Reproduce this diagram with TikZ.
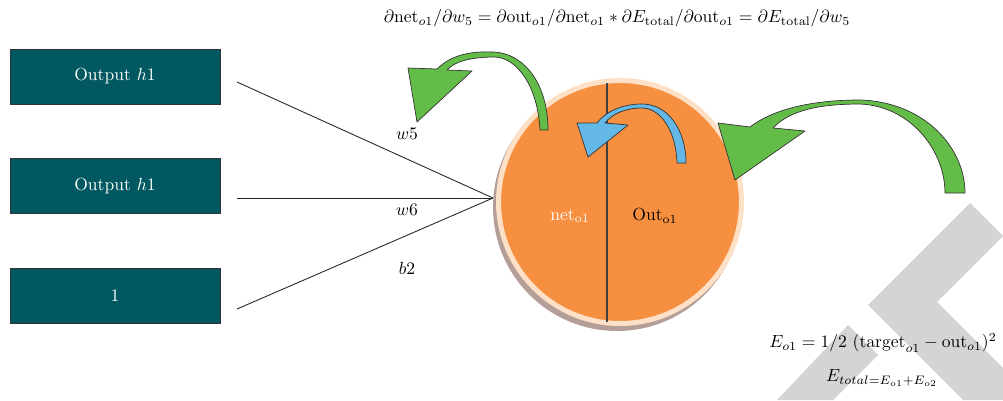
\documentclass[tikz,border=0pt]{standalone}
\usepackage{amsmath,amssymb}
\usepackage{tikz}
\usetikzlibrary{positioning,calc}
\definecolor{tealbox}{RGB}{2,88,96}
\definecolor{neuronorange}{RGB}{246,143,64}
\definecolor{ringpeach}{RGB}{253,224,198}
\definecolor{ringshadow}{RGB}{180,158,152}
\definecolor{arrowgreen}{RGB}{100,188,72}
\definecolor{arrowblue}{RGB}{100,184,230}
\definecolor{markgray}{RGB}{212,212,212}

\begin{document}
\begin{tikzpicture}[x=0.02cm, y=-0.02cm,
    box/.style={draw=black!80, fill=tealbox, minimum width=4.2cm, minimum height=1.1cm, text=white},
    wire/.style={black!85, line width=0.5pt},
    neuron/.style={circle, fill=neuronorange, draw=ringpeach, line width=0.1cm, minimum size=4.86cm, inner sep=0pt},
    curvearrow/.style={draw=black!80, line width=0.4pt, line join=round}
]
\useasboundingbox (0,0) rectangle (1003,400);

% watermark stripes
\fill[markgray] (777,400) -- (848,325) -- (878,355) -- (833,400) -- cycle;
\fill[markgray] (868,305) -- (970,203) -- (1003,236) -- (937,302) -- (1003,368) -- (1003,400) -- (963,400) -- cycle;

% inputs
\node[box] (h1a) at (115,76.5) {Output $h1$};
\node[box] (h1b) at (115,186) {Output $h1$};
\node[box] (bias) at (115,295.5) {1};

% neuron o1
\fill[ringshadow] (617,207) circle[radius=2.48cm];
\node[neuron] (o1) at (620,202) {};
\draw[black!75, line width=0.6pt] (607,83) -- (607,322);
\node[text=white] (net) at (570,216) {net$_{\mathrm{o1}}$};
\node (out) at (655,216) {Out$_{\mathrm{o1}}$};

\coordinate (in1) at (237,82);
\coordinate (in2) at (237,198);
\coordinate (in3) at (237,309);
\coordinate (join) at (493,198);
\draw[wire] (in1) -- (join);
\draw[wire] (in2) -- (join);
\draw[wire] (in3) -- (join);
\node (lw5) at (407,134) {$w5$};
\node (lw6) at (407,210) {$w6$};
\node (lb2) at (407,268) {$b2$};

% backward arrows
\filldraw[curvearrow, fill=arrowgreen] (540,130) .. controls (538,88) and (518,58) .. (495,57)
    .. controls (472,57) and (455,61) .. (447,70) -- (472,71) -- (417,122) -- (408,68) -- (437,69)
    .. controls (450,56) and (468,51) .. (493,52) .. controls (525,53) and (548,85) .. (548,130) -- cycle;
\filldraw[curvearrow, fill=arrowblue] (677,163) .. controls (676,130) and (660,108) .. (642,108)
    .. controls (625,108) and (612,114) .. (605,123) -- (628,125) -- (588,157) -- (577,123) -- (597,123)
    .. controls (605,112) and (622,104) .. (642,104) .. controls (668,104) and (686,130) .. (686,163) -- cycle;
\filldraw[curvearrow, fill=arrowgreen] (945,193) .. controls (945,150) and (910,106) .. (860,104)
    .. controls (820,104) and (790,110) .. (773,128) -- (805,131) -- (735,180) -- (718,123) -- (750,127)
    .. controls (775,108) and (815,100) .. (860,100) .. controls (925,102) and (965,148) .. (965,193) -- cycle;

% formulas
\node (grad) at (617,18) {$\partial\mathrm{net}_{o1}/\partial w_5 = \partial\mathrm{out}_{o1}/\partial\mathrm{net}_{o1} * \partial E_{\mathrm{total}}/\partial\mathrm{out}_{o1} = \partial E_{\mathrm{total}}/\partial w_5$};
\node (eo1) at (883,343) {$E_{o1} = 1/2\ (\mathrm{target}_{o1} - \mathrm{out}_{o1})^2$};
\node (etot) at (882,378) {$E_{total=E_{o1}+E_{o2}}$};
\end{tikzpicture}
\end{document}
